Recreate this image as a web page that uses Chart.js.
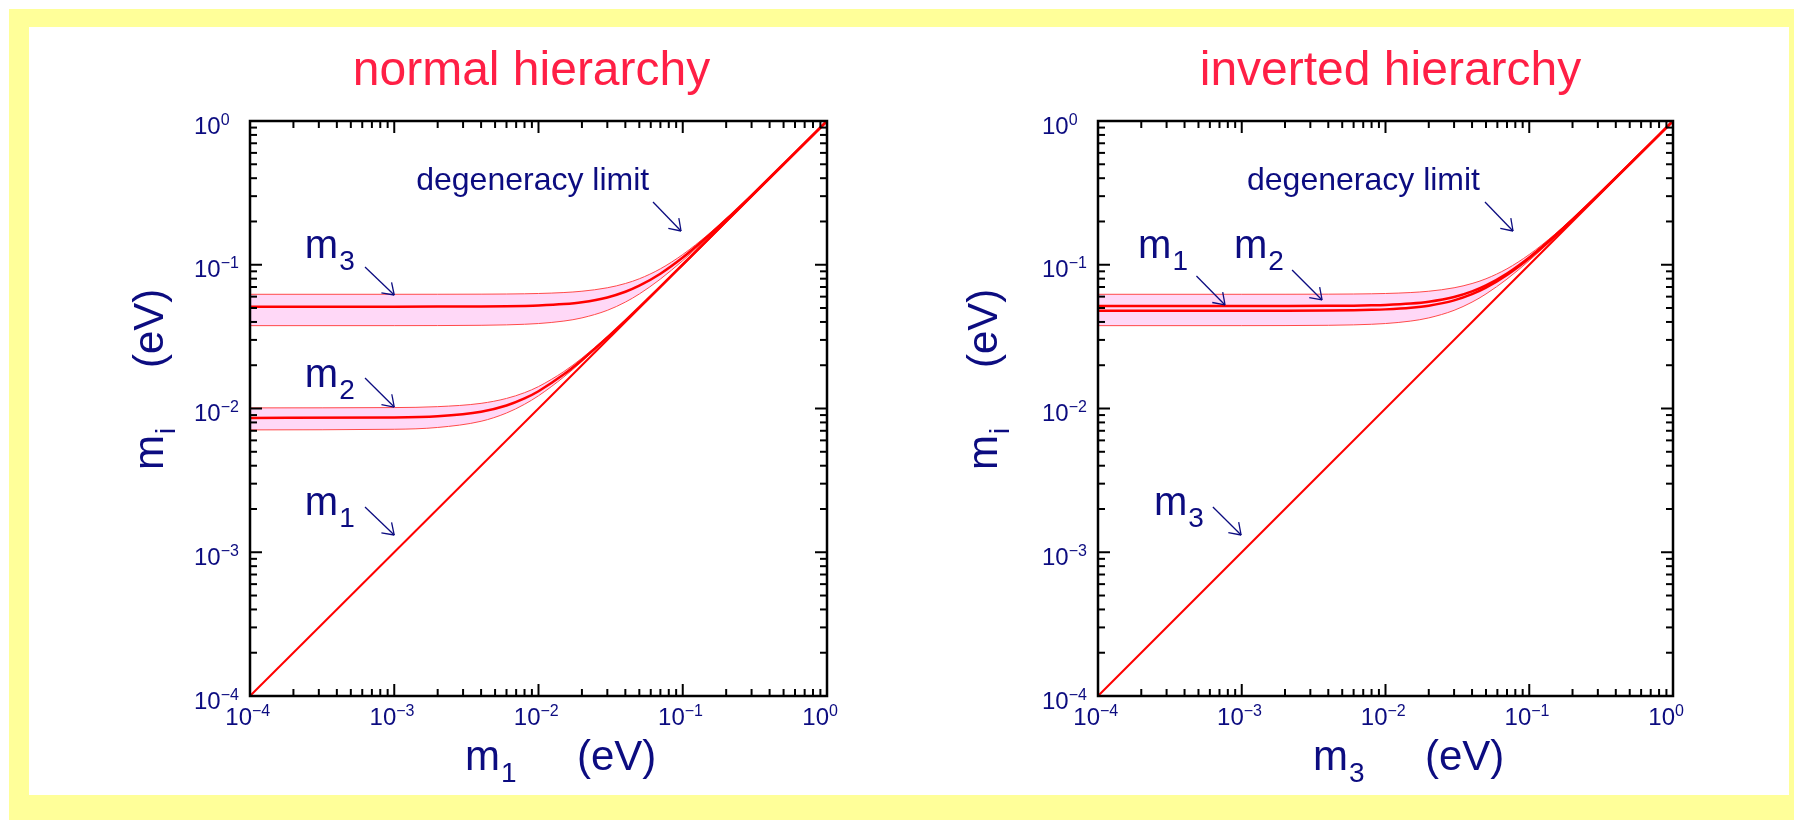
<!DOCTYPE html>
<html>
<head>
<meta charset="utf-8">
<script src="https://cdn.jsdelivr.net/npm/chart.js@4.4.1/dist/chart.umd.min.js"></script>
<style>
  html, body { margin: 0; padding: 0; background: #fff; }
  body { width: 1794px; height: 820px; position: relative; overflow: hidden; }
  .frame { position: absolute; left: 9px; top: 9px; width: 1785px; height: 811px; background: #ffff99; }
  .sheet { position: absolute; left: 29px; top: 27px; width: 1760px; height: 768px; background: #fff; }
  canvas { position: absolute; top: 27px; }
  #nh { left: 29px; }
  #ih { left: 894px; }
</style>
</head>
<body>
<div class="frame"></div>
<div class="sheet"></div>
<canvas id="nh" width="865" height="768"></canvas>
<canvas id="ih" width="895" height="768"></canvas>
<script>
// lightest mass (eV) on the horizontal axis
const M_LIGHT = [1e-4, 1e-3, 2e-3, 4e-3, 6e-3, 8e-3, 0.01, 0.015, 0.02, 0.03, 0.04, 0.05, 0.07, 0.1, 0.15, 0.2, 0.3, 0.5, 1];
const DIAG = [1e-4, 1];

// normal hierarchy: m2 and m3 with their bands
const NH_M2    = [0.0086, 0.00866, 0.00883, 0.00949, 0.01049, 0.01175, 0.01319, 0.01729, 0.02177, 0.03121, 0.04091, 0.05073, 0.07053, 0.1004, 0.1502, 0.2002, 0.3001, 0.5001, 1.0];
const NH_M2_HI = [0.0101, 0.01015, 0.0103, 0.01086, 0.01175, 0.01288, 0.01421, 0.01808, 0.02241, 0.03165, 0.04126, 0.05101, 0.07073, 0.1005, 0.1503, 0.2003, 0.3002, 0.5001, 1.0];
const NH_M2_LO = [0.0071, 0.00717, 0.00738, 0.00815, 0.0093, 0.0107, 0.01226, 0.0166, 0.02122, 0.03083, 0.04063, 0.0505, 0.07036, 0.1003, 0.1502, 0.2001, 0.3001, 0.5001, 1.0];
const NH_M3    = [0.0511, 0.05111, 0.05114, 0.05126, 0.05145, 0.05172, 0.05207, 0.05326, 0.05487, 0.05926, 0.06489, 0.07149, 0.08667, 0.1123, 0.1585, 0.2064, 0.3043, 0.5026, 1.0013];

// atmospheric band edges (same in both panels)
const ATM_HI = [0.0623, 0.06231, 0.06233, 0.06243, 0.06259, 0.06281, 0.0631, 0.06408, 0.06543, 0.06915, 0.07404, 0.07988, 0.09371, 0.1178, 0.1624, 0.2095, 0.3064, 0.5039, 1.0019];
const ATM_LO = [0.0377, 0.03771, 0.03775, 0.03791, 0.03818, 0.03854, 0.039, 0.04058, 0.04268, 0.04818, 0.05497, 0.06262, 0.07951, 0.1069, 0.1547, 0.2035, 0.3024, 0.5014, 1.0007];

// inverted hierarchy: m1 and m2
const IH_M1 = [0.0479, 0.04791, 0.04794, 0.04807, 0.04827, 0.04856, 0.04893, 0.05019, 0.05191, 0.05652, 0.06241, 0.06924, 0.08482, 0.1109, 0.1575, 0.2057, 0.3038, 0.5023, 1.0011];
const IH_M2 = [0.0516, 0.05161, 0.05164, 0.05176, 0.05195, 0.05222, 0.05256, 0.05374, 0.05534, 0.05969, 0.06529, 0.07185, 0.08696, 0.1125, 0.1586, 0.2065, 0.3044, 0.5027, 1.0013];

// axis decades, labelled 10^n
const DECADES = [-4, -3, -2, -1, 0];

// labels with arrows, in data units
const NH_NOTES = [
  { text: 'degeneracy limit', at: [1.42e-3, 0.331], from: [0.0622, 0.273], to: [0.0973, 0.1717] },
  { text: 'm', sub: '3', at: [2.4e-4, 0.1114], from: [6.27e-4, 0.0965], to: [1e-3, 0.0616] },
  { text: 'm', sub: '2', at: [2.4e-4, 0.0141], from: [6.27e-4, 0.0163], to: [1e-3, 0.01024] },
  { text: 'm', sub: '1', at: [2.4e-4, 0.001816], from: [6.27e-4, 0.002065], to: [1e-3, 0.001318] },
];
const IH_NOTES = [
  { text: 'degeneracy limit', at: [1.088e-3, 0.331], from: [0.0492, 0.273], to: [0.0771, 0.1717] },
  { text: 'm', sub: '1', at: [1.9e-4, 0.1114], from: [4.84e-4, 0.0835], to: [7.65e-4, 0.0525] },
  { text: 'm', sub: '2', at: [8.83e-4, 0.1114], from: [2.24e-3, 0.0919], to: [3.62e-3, 0.0569] },
  { text: 'm', sub: '3', at: [2.45e-4, 0.001816], from: [6.3e-4, 0.002065], to: [9.9e-4, 0.001318] },
];

const RED = '#ff0000';
const EDGE = '#ff4a4a';
const PINK = '#ffd8f7';
const NAVY = '#0c0c80';
const TITLE_RED = '#ff1f45';
const FAMILY = '"Liberation Sans", Arial, Helvetica, sans-serif';
const font = px => px + 'px ' + FAMILY;

function curve(ys, style) {
  return Object.assign({
    data: M_LIGHT.map((x, i) => ({ x, y: ys[i] })),
    pointRadius: 0,
    cubicInterpolationMode: 'monotone',
    fill: false
  }, style);
}
const diagonal = () => ({ data: DIAG.map(v => ({ x: v, y: v })), borderColor: RED, borderWidth: 2, pointRadius: 0, fill: false });
const central = { borderColor: RED, borderWidth: 2.5 };
const edge = { borderColor: EDGE, borderWidth: 1 };
const edgeFill = { borderColor: EDGE, borderWidth: 1, fill: '+1', backgroundColor: PINK };

function seg(ctx, x1, y1, x2, y2) {
  ctx.beginPath(); ctx.moveTo(x1, y1); ctx.lineTo(x2, y2); ctx.stroke();
}

function arrow(ctx, x1, y1, x2, y2) {
  seg(ctx, x1, y1, x2, y2);
  const ang = Math.atan2(y1 - y2, x1 - x2);
  [-0.6, 0.6].forEach(d => seg(ctx, x2, y2, x2 + 13 * Math.cos(ang + d), y2 + 13 * Math.sin(ang + d)));
}

// m with a subscript, or plain text
function subText(ctx, x, y, main, sub, size, subSize) {
  ctx.font = font(size);
  ctx.textAlign = 'left';
  ctx.fillText(main, x, y);
  if (!sub) return;
  const w = ctx.measureText(main).width;
  ctx.font = font(subSize);
  ctx.fillText(sub, x + w + 1, y + 12);
}

function powLabel(ctx, x, y, e, alignRight) {
  const sup = e === 0 ? '0' : '\u2212' + Math.abs(e);
  ctx.font = font(24);
  ctx.textAlign = alignRight ? 'right' : 'left';
  ctx.fillText('10', x, y);
  const w = alignRight ? 0 : ctx.measureText('10').width;
  ctx.font = font(16);
  ctx.textAlign = 'left';
  ctx.fillText(sup, x + w, y - 9);
}

const framePlugin = {
  id: 'frame',
  afterDraw(chart, args, o) {
    const { ctx, chartArea: a, scales: { x, y } } = chart;
    ctx.save();

    // inward ticks on all four sides
    ctx.strokeStyle = '#000';
    ctx.lineWidth = 2;
    DECADES.forEach((e, i) => {
      for (let k = 1; k < 10; k++) {
        if (i === DECADES.length - 1 && k > 1) break;
        const v = k * Math.pow(10, e);
        const len = k === 1 ? 12 : 7;
        const px = x.getPixelForValue(v), py = y.getPixelForValue(v);
        seg(ctx, px, a.bottom, px, a.bottom - len);
        seg(ctx, px, a.top, px, a.top + len);
        seg(ctx, a.left, py, a.left + len, py);
        seg(ctx, a.right, py, a.right - len, py);
      }
    });
    ctx.lineWidth = 2.5;
    ctx.strokeRect(a.left, a.top, a.right - a.left, a.bottom - a.top);

    // tick labels
    ctx.fillStyle = NAVY;
    ctx.textBaseline = 'alphabetic';
    DECADES.forEach(e => {
      const v = Math.pow(10, e);
      powLabel(ctx, x.getPixelForValue(v) + 2, a.bottom + 29, e, true);
      powLabel(ctx, a.left - 56, y.getPixelForValue(v) + 12.5, e, false);
    });

    // title
    ctx.fillStyle = TITLE_RED;
    ctx.font = font(48);
    ctx.textAlign = 'center';
    ctx.fillText(o.title, (a.left + a.right) / 2 + o.titleShift, a.top - 36);

    // axis titles
    ctx.fillStyle = NAVY;
    subText(ctx, a.left + 215, a.bottom + 74, 'm', o.xSub, 42, 28);
    subText(ctx, a.left + 327, a.bottom + 74, '(eV)', null, 42, 28);
    ctx.save();
    ctx.translate(a.left - o.yGap, a.top + 349);
    ctx.rotate(-Math.PI / 2);
    subText(ctx, 0, 0, 'm', 'i', 42, 28);
    subText(ctx, 102, 0, '(eV)', null, 42, 28);
    ctx.restore();

    // labels and arrows
    ctx.strokeStyle = NAVY;
    ctx.lineWidth = 1.3;
    o.notes.forEach(n => {
      const px = x.getPixelForValue(n.at[0]), py = y.getPixelForValue(n.at[1]);
      if (n.sub) subText(ctx, px, py, n.text, n.sub, 40, 28);
      else subText(ctx, px, py, n.text, null, 32, 32);
      arrow(ctx,
        x.getPixelForValue(n.from[0]), y.getPixelForValue(n.from[1]),
        x.getPixelForValue(n.to[0]), y.getPixelForValue(n.to[1]));
    });
    ctx.restore();
  }
};

function makeChart(id, datasets, padding, frame) {
  return new Chart(document.getElementById(id), {
    type: 'line',
    data: { datasets },
    plugins: [framePlugin],
    options: {
      responsive: false,
      animation: false,
      events: [],
      layout: { padding },
      plugins: {
        legend: { display: false },
        tooltip: { enabled: false },
        filler: { drawTime: 'beforeDatasetsDraw' },
        frame
      },
      scales: {
        x: { type: 'logarithmic', min: 1e-4, max: 1, display: false },
        y: { type: 'logarithmic', min: 1e-4, max: 1, display: false }
      }
    }
  });
}

makeChart('nh', [
  diagonal(),
  curve(NH_M3, central),
  curve(NH_M2, central),
  curve(ATM_HI, edgeFill),
  curve(ATM_LO, edge),
  curve(NH_M2_HI, edgeFill),
  curve(NH_M2_LO, edge)
], { left: 221, right: 67, top: 94, bottom: 99 },
{ title: 'normal hierarchy', titleShift: -7, xSub: '1', yGap: 87, notes: NH_NOTES });

makeChart('ih', [
  diagonal(),
  curve(IH_M2, central),
  curve(IH_M1, central),
  curve(ATM_HI, edgeFill),
  curve(ATM_LO, edge)
], { left: 204, right: 116, top: 94, bottom: 99 },
{ title: 'inverted hierarchy', titleShift: 5, xSub: '3', yGap: 101, notes: IH_NOTES });
</script>
</body>
</html>
